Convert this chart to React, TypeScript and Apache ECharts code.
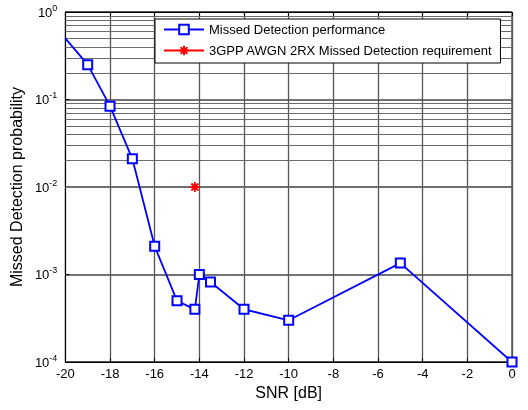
import React, { useEffect, useRef } from "react";
import * as echarts from "echarts";

const snr = [-20, -19, -18, -17, -16, -15, -14.2, -14, -13.5, -12, -10, -5, 0];
const missed = [0.5, 0.25, 0.084, 0.021, 0.0021, 0.0005, 0.0004, 0.001, 0.00082, 0.0004, 0.0003, 0.00135, 0.0001];
const reqSnr = [-14.2];
const reqVal = [0.01];
const decades = [1e-4, 1e-3, 1e-2, 1e-1];
const minorMult = [2, 3, 4, 5, 6, 7, 8, 9];
const perfName = "Missed Detection performance";
const reqName = "3GPP AWGN 2RX Missed Detection requirement";

const FONT = "Liberation Sans, Arial, Helvetica, sans-serif";
const STAR = "path://M0,5L10,5M5,0L5,10M1.5,1.5L8.5,8.5M1.5,8.5L8.5,1.5";

export default function App() {
  const ref = useRef<HTMLDivElement>(null);
  useEffect(() => {
    if (!ref.current) return;
    const chart = echarts.init(ref.current, undefined, { renderer: "svg" });
    const minorLines: any[] = [];
    decades.forEach((d) => minorMult.forEach((m) => minorLines.push({ yAxis: d * m })));
    const perfData = snr.map((x, i) =>
      i === 0 ? { value: [x, missed[i]], symbol: "none" } : { value: [x, missed[i]] }
    );
    chart.setOption({
      animation: false,
      textStyle: { fontFamily: FONT },
      grid: { left: 63, right: 16, top: 12, bottom: 48, show: true, borderColor: "#000", borderWidth: 1, backgroundColor: "#fff" },
      legend: {
        data: [perfName, reqName],
        orient: "vertical",
        left: 155,
        top: 19,
        z: 100,
        zlevel: 1,
        itemWidth: 40,
        itemHeight: 12,
        itemGap: 8,
        padding: [4, 8, 6, 8],
        borderColor: "#000",
        borderWidth: 1,
        backgroundColor: "#fff",
        borderRadius: 0,
        textStyle: { fontSize: 13, color: "#000", fontFamily: FONT },
      },
      xAxis: [
        {
          type: "value",
          min: -20,
          max: 0,
          interval: 2,
          name: "SNR [dB]",
          nameLocation: "middle",
          nameGap: 22,
          nameTextStyle: { fontSize: 16, color: "#000" },
          axisLine: { show: true, onZero: false, lineStyle: { color: "#000", width: 1 } },
          axisTick: { show: true, inside: true, length: 4, lineStyle: { color: "#000" } },
          axisLabel: { fontSize: 13, color: "#000", margin: 5 },
          splitLine: { show: true, lineStyle: { color: "#555", width: 1.3 } },
        },
        {
          type: "value",
          min: -20,
          max: 0,
          interval: 2,
          position: "top",
          axisLine: { show: true, lineStyle: { color: "#000" } },
          axisTick: { show: true, inside: true, length: 4, lineStyle: { color: "#000" } },
          axisLabel: { show: false },
          splitLine: { show: false },
        },
      ],
      yAxis: {
        type: "log",
        logBase: 10,
        min: 1e-4,
        max: 1,
        name: "Missed Detection probability",
        nameLocation: "middle",
        nameGap: 35,
        nameTextStyle: { fontSize: 16, color: "#000" },
        axisLine: { show: true, onZero: false, lineStyle: { color: "#000" } },
        axisTick: { show: true, inside: true, length: 4, lineStyle: { color: "#000" } },
        axisLabel: {
          color: "#000",
          margin: 8,
          formatter: (v: number) => `{b|10}{s|${Math.round(Math.log10(v))}}`,
          rich: {
            b: { fontSize: 13, color: "#000", fontFamily: FONT },
            s: { fontSize: 9, color: "#000", fontFamily: FONT, verticalAlign: "bottom", padding: [0, 0, 9, 0] },
          },
        },
        splitLine: { show: true, lineStyle: { color: "#444", width: 1.5 } },
      },
      series: [
        {
          type: "line",
          name: "minor",
          data: [],
          z: 1,
          silent: true,
          markLine: {
            silent: true,
            symbol: "none",
            label: { show: false },
            lineStyle: { color: "#6a6a6a", width: 1, type: "solid" },
            data: minorLines,
          },
        },
        {
          type: "line",
          name: perfName,
          data: perfData,
          z: 5,
          symbol: "emptyRect",
          symbolSize: 9,
          showAllSymbol: true,
          lineStyle: { color: "#0000ff", width: 1.8 },
          itemStyle: { color: "#0000ff", borderColor: "#0000ff", borderWidth: 1.5 },
        },
        {
          type: "line",
          name: reqName,
          data: reqSnr.map((x, i) => [x, reqVal[i]]),
          z: 5,
          symbol: STAR,
          symbolSize: 10,
          lineStyle: { color: "#ff0000", width: 1.8 },
          itemStyle: { color: "transparent", borderColor: "#ff0000", borderWidth: 1.8 },
        },
      ],
    });
    return () => chart.dispose();
  }, []);
  return <div ref={ref} style={{ position: "fixed", left: 0, top: 0, width: 528, height: 410 }} />;
}
